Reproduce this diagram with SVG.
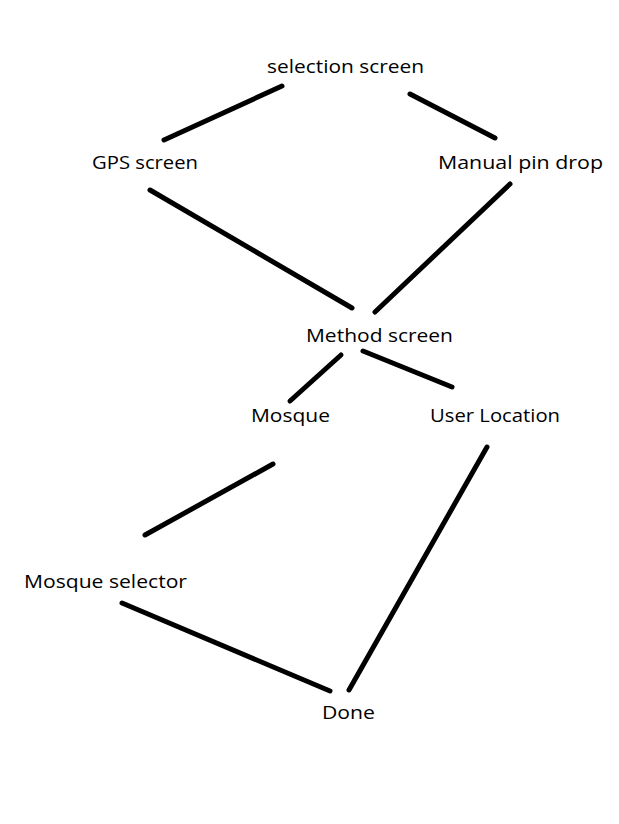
<svg xmlns="http://www.w3.org/2000/svg" width="619" height="824" viewBox="0 0 619 824">
<style>
text{font-family:"Open Sans","Noto Sans",sans-serif;font-size:19px;fill:#000}
.c line{stroke:#000;stroke-width:5;stroke-linecap:round}
</style>
<rect width="619" height="824" fill="#fff"/>
<g id="n-selection"><text x="267" y="73" textLength="157" lengthAdjust="spacingAndGlyphs">selection screen</text></g>
<g id="n-gps"><text x="92" y="169" textLength="106" lengthAdjust="spacingAndGlyphs">GPS screen</text></g>
<g id="n-manual"><text x="438" y="169" textLength="165" lengthAdjust="spacingAndGlyphs">Manual pin drop</text></g>
<g id="n-method"><text x="306" y="342" textLength="147" lengthAdjust="spacingAndGlyphs">Method screen</text></g>
<g id="n-mosque"><text x="251" y="422" textLength="79" lengthAdjust="spacingAndGlyphs">Mosque</text></g>
<g id="n-userloc"><text x="430" y="422" textLength="130" lengthAdjust="spacingAndGlyphs">User Location</text></g>
<g id="n-mosqueselector"><text x="24" y="588" textLength="163" lengthAdjust="spacingAndGlyphs">Mosque selector</text></g>
<g id="n-done"><text x="322" y="719" textLength="53" lengthAdjust="spacingAndGlyphs">Done</text></g>
<g class="c" id="connectors">
<line x1="282" y1="86" x2="164" y2="140"/>
<line x1="410" y1="94" x2="495" y2="138"/>
<line x1="150" y1="190" x2="352" y2="308"/>
<line x1="510" y1="184" x2="375" y2="312"/>
<line x1="341" y1="355" x2="290" y2="401"/>
<line x1="363" y1="351" x2="452" y2="387"/>
<line x1="273" y1="464" x2="145" y2="535"/>
<line x1="487" y1="447" x2="349" y2="690"/>
<line x1="122" y1="603" x2="330" y2="691"/>
</g>
</svg>
